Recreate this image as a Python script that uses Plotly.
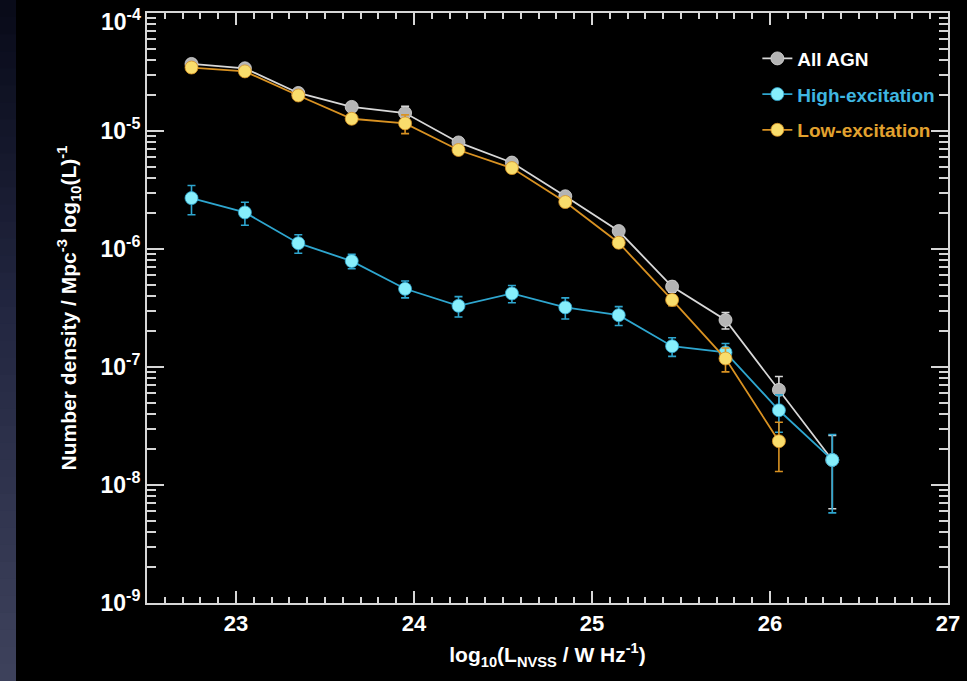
import plotly.graph_objects as go

# ---- data ----
log_l = [22.75, 23.05, 23.35, 23.65, 23.95, 24.25, 24.55, 24.85, 25.15, 25.45, 25.75, 26.05, 26.35]

all_agn = [3.7e-5, 3.4e-5, 2.1e-5, 1.6e-5, 1.42e-5, 8.0e-6, 5.4e-6, 2.8e-6, 1.42e-6, 4.8e-7, 2.5e-7, 6.4e-8, 1.63e-8]
all_err = [1.5e-6, 1.3e-6, 0.8e-6, 0.8e-6, 2.0e-6, 0.5e-6, 0.4e-6, 0.2e-6, 0.1e-6, 0.5e-7, 0.4e-7, 1.9e-8, 1.0e-8]

high_exc = [2.7e-6, 2.04e-6, 1.12e-6, 7.9e-7, 4.6e-7, 3.3e-7, 4.2e-7, 3.2e-7, 2.75e-7, 1.5e-7, 1.33e-7, 4.3e-8, 1.63e-8]
high_err = [0.75e-6, 0.45e-6, 0.2e-6, 1.1e-7, 7.5e-8, 6.5e-8, 7.0e-8, 6.5e-8, 5.0e-8, 2.7e-8, 2.5e-8, 1.5e-8, 1.05e-8]

low_l = [22.75, 23.05, 23.35, 23.65, 23.95, 24.25, 24.55, 24.85, 25.15, 25.45, 25.75, 26.05]
low_exc = [3.45e-5, 3.2e-5, 2.0e-5, 1.27e-5, 1.16e-5, 6.9e-6, 4.85e-6, 2.5e-6, 1.13e-6, 3.7e-7, 1.18e-7, 2.35e-8]
low_err = [1.4e-6, 1.2e-6, 0.8e-6, 0.6e-6, 2.1e-6, 0.5e-6, 0.3e-6, 0.2e-6, 0.1e-6, 0.4e-7, 2.7e-8, 1.05e-8]

x_ticks = [23, 24, 25, 26, 27]
y_exps = [-9, -8, -7, -6, -5]
y_top_exp = -4
y_ticktext = ["10<sup>%d</sup>" % e for e in y_exps]

FONT = "Liberation Sans, Arial, Helvetica, sans-serif"
AXIS_COL = "#d6d6d6"

series = [
    ("All AGN", log_l, all_agn, all_err, "#d8d8d8", "#b4b4b4", "#ffffff"),
    ("High-excitation", log_l, high_exc, high_err, "#2ea6cf", "#86eefb", "#3fb6e0"),
    ("Low-excitation", low_l, low_exc, low_err, "#d99222", "#f9dd6c", "#e2a22f"),
]

fig = go.Figure()
for i, (name, xs, ys, es, lc, mc, tc) in enumerate(series):
    fig.add_trace(go.Scatter(
        x=xs, y=ys, mode="lines+markers",
        name="<span style='color:%s'>%s</span>" % (tc, name),
        legendgroup="g%d" % i,
        line=dict(color=lc, width=1.8),
        marker=dict(size=13, color=mc, line=dict(color=lc, width=0.8)),
        error_y=dict(type="data", array=es, visible=True, color=lc, thickness=1.6, width=4),
    ))

# slide background strip on the left (vertical gradient)
stops = [(0.0, (8, 10, 24)), (0.45, (34, 38, 64)), (1.0, (62, 66, 92))]
n_band = 40
def col_at(t):
    for (t0, c0), (t1, c1) in zip(stops[:-1], stops[1:]):
        if t <= t1:
            f = (t - t0) / (t1 - t0)
            return "rgb(%d,%d,%d)" % tuple(round(a + (b - a) * f) for a, b in zip(c0, c1))
    return "rgb(%d,%d,%d)" % stops[-1][1]

H, W = 681, 967
ml, mr, mt, mb = 147, 19, 13, 78
pw, ph = W - ml - mr, H - mt - mb
for k in range(n_band):
    py0, py1 = k * H / n_band, (k + 1) * H / n_band + 2
    fig.add_shape(type="rect", xref="paper", yref="paper",
                  x0=-ml / pw, x1=(16 - ml) / pw,
                  y0=(H - mb - py1) / ph, y1=(H - mb - py0) / ph,
                  fillcolor=col_at((k + 0.5) / n_band), line=dict(width=0), layer="below")

minor_y = [m * 10.0 ** e for e in range(-9, -4) for m in range(2, 10)]

# top y label (nudged down so the superscript stays inside the page)
fig.add_annotation(xref="paper", yref="y", x=0, y=y_top_exp, xanchor="right", yanchor="middle",
                   xshift=-4, yshift=-7, showarrow=False,
                   text="10<sup>%d</sup>" % y_top_exp,
                   font=dict(size=23, family=FONT, weight="bold", color="white"))

fig.update_layout(
    width=W, height=H,
    margin=dict(l=ml, r=mr, t=mt, b=mb),
    paper_bgcolor="black", plot_bgcolor="black",
    font=dict(family=FONT, color="white", size=20, weight="bold"),
    showlegend=True,
    legend=dict(x=0.762, y=0.955, xanchor="left", yanchor="top",
                bgcolor="rgba(0,0,0,0)", font=dict(size=19, family=FONT, weight="bold"),
                tracegroupgap=8, itemwidth=30),
    xaxis=dict(
        range=[22.5, 27], tickmode="array", tickvals=x_ticks, automargin=False,
        ticks="inside", ticklen=12, tickwidth=1.5, tickcolor=AXIS_COL,
        showline=True, linecolor=AXIS_COL, linewidth=2, mirror="ticks",
        showgrid=False, zeroline=False, ticklabeloverflow="allow",
        tickfont=dict(size=22, family=FONT, weight="bold"),
        minor=dict(ticks="inside", ticklen=6, tickwidth=1.5, tickcolor=AXIS_COL, dtick=0.1, showgrid=False),
        title=dict(text="log<sub>10</sub>(L<sub>NVSS</sub> / W Hz<sup>-1</sup>)",
                   font=dict(size=21, family=FONT, weight="bold"), standoff=12),
    ),
    yaxis=dict(
        type="log", range=[-9, -4], tickmode="array", automargin=False,
        tickvals=[10.0 ** e for e in y_exps], ticktext=y_ticktext,
        ticks="inside", ticklen=17, tickwidth=1.5, tickcolor=AXIS_COL,
        showline=True, linecolor=AXIS_COL, linewidth=2, mirror="ticks",
        showgrid=False, zeroline=False, ticklabeloverflow="allow",
        tickfont=dict(size=23, family=FONT, weight="bold"),
        minor=dict(tickmode="array", tickvals=minor_y, ticks="inside", ticklen=9,
                   tickwidth=1.5, tickcolor=AXIS_COL, showgrid=False),
        title=dict(text="Number density / Mpc<sup>-3</sup> log<sub>10</sub>(L)<sup>-1</sup>",
                   font=dict(size=21, family=FONT, weight="bold"), standoff=18),
    ),
)

fig.write_html("out.html")
